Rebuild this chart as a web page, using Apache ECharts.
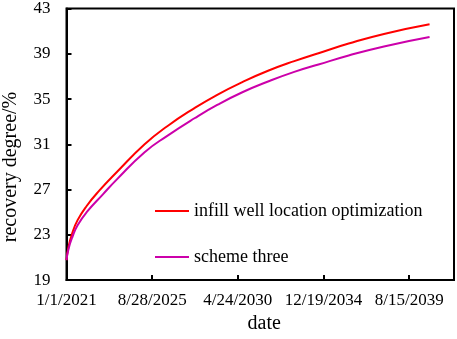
<!DOCTYPE html>
<html>
<head>
<meta charset="utf-8">
<script src="https://cdn.jsdelivr.net/npm/echarts@6/dist/echarts.min.js"></script>
<style>
  html, body { margin: 0; padding: 0; background: #fff; }
  #container { width: 457px; height: 339px; }
</style>
</head>
<body>
<div id="container"></div>
<script>
// days counted from 1/1/2021
var xTickLabels = ['1/1/2021', '8/28/2025', '4/24/2030', '12/19/2034', '8/15/2039'];
var seriesNames = ['infill well location optimization', 'scheme three'];

var infillDays = [0, 40, 110, 220, 400, 650, 1000, 1550, 2000, 2540, 3000, 3490, 4000, 4520, 5000, 5600, 6300, 7205];
var infillValues = [20.76, 21.95, 23.1, 24.3, 25.55, 26.9, 28.55, 31.0, 32.6, 34.2, 35.4, 36.5, 37.5, 38.35, 39.05, 39.9, 40.75, 41.6];

var schemeDays = [0, 40, 120, 220, 400, 727, 1000, 1550, 2000, 2540, 3000, 3490, 4000, 4520, 5000, 5600, 6300, 7205];
var schemeValues = [20.76, 21.75, 22.85, 23.85, 25.0, 26.6, 27.9, 30.3, 31.75, 33.3, 34.5, 35.6, 36.55, 37.4, 38.05, 38.85, 39.65, 40.48];

var FONT = 'Liberation Serif';

var pairs = function (xs, ys) {
  var res = [];
  for (var i = 0; i < xs.length; i++) {
    res.push([xs[i], ys[i]]);
  }
  return res;
};

var myChart = echarts.init(document.getElementById('container'));

var option = {
  animation: false,
  backgroundColor: '#fff',
  grid: {
    left: 66.5,
    top: 6,
    right: 1.5,
    bottom: 51,
    show: true,
    borderColor: '#000',
    borderWidth: 2
  },
  legend: {
    orient: 'vertical',
    left: 150,
    top: 196,
    icon: 'rect',
    itemWidth: 34,
    itemHeight: 2,
    itemGap: 26,
    textStyle: { fontFamily: FONT, fontSize: 18, color: '#000', lineHeight: 20 },
    data: seriesNames
  },
  xAxis: {
    type: 'value',
    min: 0,
    max: 7690,
    interval: 1700,
    name: 'date',
    nameLocation: 'middle',
    nameGap: 33,
    nameTextStyle: { fontFamily: FONT, fontSize: 20, color: '#000', padding: [0, 0, 0, 8] },
    axisLine: { lineStyle: { color: '#000', width: 2 } },
    axisTick: { inside: true, length: 5, lineStyle: { color: '#000', width: 2 } },
    axisLabel: {
      fontFamily: FONT, fontSize: 17, color: '#000', margin: 12,
      formatter: function (v) {
        if (v % 1700 !== 0) return '';
        return xTickLabels[v / 1700] || '';
      }
    },
    splitLine: { show: false }
  },
  yAxis: {
    type: 'value',
    min: 19,
    max: 43,
    interval: 4,
    axisLine: { show: true, lineStyle: { color: '#000', width: 2 } },
    axisTick: { show: true, inside: true, length: 5, lineStyle: { color: '#000', width: 2 } },
    axisLabel: { fontFamily: FONT, fontSize: 17, color: '#000', margin: 16 },
    splitLine: { show: false }
  },
  graphic: [{
    type: 'text',
    x: 11,
    y: 167,
    rotation: Math.PI / 2,
    style: {
      text: 'recovery degree/%',
      font: '20px "Liberation Serif"',
      fill: '#000',
      textAlign: 'center',
      textVerticalAlign: 'middle'
    }
  }],
  series: [{
    name: seriesNames[0],
    type: 'line',
    showSymbol: false,
    smooth: true,
    lineStyle: { color: '#ff0000', width: 2 },
    itemStyle: { color: '#ff0000' },
    data: pairs(infillDays, infillValues)
  }, {
    name: seriesNames[1],
    type: 'line',
    showSymbol: false,
    smooth: true,
    lineStyle: { color: '#cc00aa', width: 2 },
    itemStyle: { color: '#cc00aa' },
    data: pairs(schemeDays, schemeValues)
  }]
};

myChart.setOption(option);
</script>
</body>
</html>
